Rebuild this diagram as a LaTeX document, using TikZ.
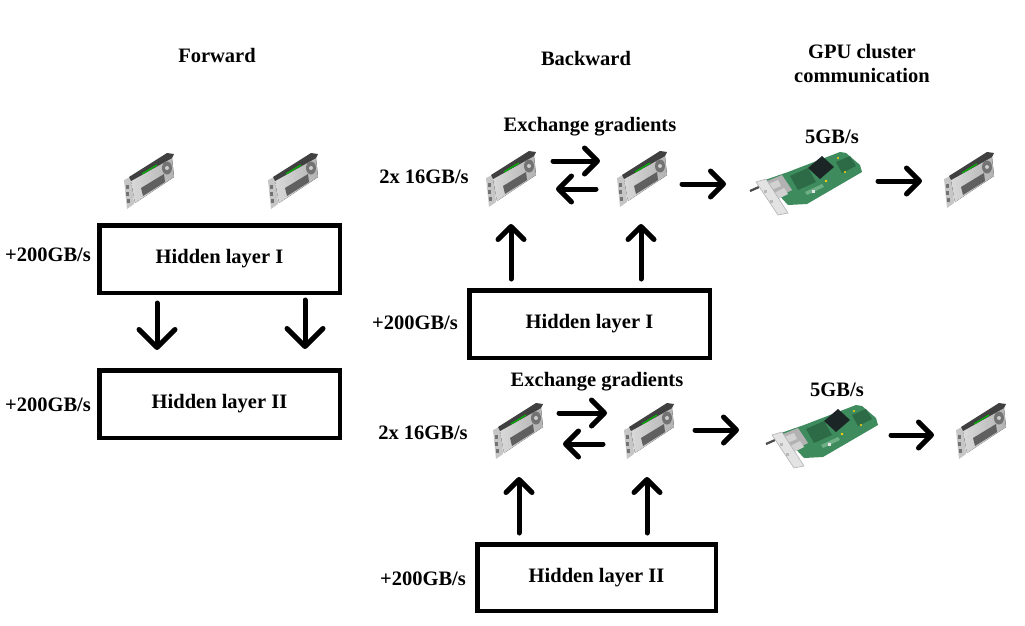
\documentclass[tikz,border=0pt]{standalone}
\usepackage{fontspec}
\setmainfont{Liberation Serif}
\usetikzlibrary{arrows.meta}
\definecolor{pcb}{HTML}{3E8B5E}
\definecolor{pcbdark}{HTML}{2C6B45}
\definecolor{pcblight}{HTML}{6FAF86}
\definecolor{sink}{HTML}{1C2526}
\tikzset{
  lbl/.style={font=\fontsize{20.5}{24}\selectfont\bfseries, inner sep=0pt, align=center},
  layer/.style={draw, line width=4.5pt, inner sep=0pt, font=\fontsize{20.5}{24}\selectfont\bfseries},
  arr/.style={line width=5pt, line cap=round, -{Straight Barb[length=13pt,width=26pt,line cap=round,line join=round]}},
  farr/.style={line width=5pt, line cap=round, -{Straight Barb[length=18pt,width=36pt,line cap=round,line join=round]}},
  gpu/.pic={
    % bracket
    \fill[gray!45] (1,27) -- (9,23) -- (11,51) -- (4,56) -- cycle;
    \fill[black!55] (3,32) rectangle (6,36);
    \fill[black!55] (3,39) rectangle (6,43);
    \fill[black!55] (4,46) rectangle (7,50);
    % side face
    \fill[left color=gray!30, right color=gray!60] (8,28) -- (49,5) -- (51,24) -- (12,50) -- cycle;
    % window
    \fill[gray!75!black] (18,35) -- (41,21) -- (42,29) -- (20,43) -- cycle;
    % top edge
    \fill[black!75] (8,28) -- (49,5) -- (51,1) -- (44,0) -- (6,24) -- cycle;
    \draw[green!70!black, line width=1.3pt] (19,21) -- (34,12);
    % fan
    \fill[black!55] (44,15) ellipse [x radius=5, y radius=6.5];
    \fill[gray!40] (44,15) circle [radius=2];
  },
  nic/.pic={
    % cable stub
    \draw[black!70, line width=2.2pt] (0,39) -- (9,35);
    % board
    \fill[pcb] (15,28) -- (38,20) -- (90,0) -- (96,1) -- (110,13) -- (112,20) -- (57,52) -- (38,53) -- cycle;
    \fill[pcbdark] (40,24) -- (58,16) -- (66,30) -- (48,38) -- cycle;
    \fill[pcbdark] (86,10) -- (100,4) -- (106,14) -- (92,21) -- cycle;
    \fill[pcblight] (55,40) -- (72,32) -- (74,35) -- (57,43) -- cycle;
    % heatsink
    \fill[sink] (72,4) -- (84,15) -- (70,27) -- (58,16) -- cycle;
    % components
    \fill[yellow!70!orange] (76,29) circle [radius=1.3];
    \fill[yellow!70!orange] (95,20) circle [radius=1.2];
    \fill[yellow!70!orange] (88,6) circle [radius=1.1];
    \fill[white!80!gray] (62,38) rectangle (65,41);
    % ports
    \fill[gray!60] (12,31) -- (32,23) -- (42,38) -- (24,47) -- cycle;
    \fill[gray!35] (16,33) -- (28,28) -- (31,34) -- (19,39) -- cycle;
    \fill[gray!35] (22,42) -- (34,36) -- (38,42) -- (26,48) -- cycle;
    % bracket plate
    \fill[gray!22] (6,30) -- (16,27) -- (38,61) -- (28,63) -- cycle;
    \draw[gray!60, line width=0.6pt] (6,30) -- (16,27) -- (38,61) -- (28,63) -- cycle;
    \fill[gray!55] (14,38) rectangle (17,41);
    \fill[gray!55] (20,48) rectangle (23,51);
  }
}
\begin{document}
\begin{tikzpicture}[x=1pt,y=-1pt]
\useasboundingbox (0,0) rectangle (1025,626);

% titles
\node[lbl] (tfwd) at (217,55) {Forward};
\node[lbl] (tbwd) at (586,58) {Backward};
\node[lbl] (tgpu) at (862,63.5) {GPU cluster\\communication};

% forward
\node[lbl] (fs1) at (48,255) {+200GB/s};
\node[lbl] (fs2) at (48,405) {+200GB/s};
\node[layer, minimum width=240.5pt, minimum height=67.5pt] (f1) at (219.5,259) {Hidden layer I};
\node[layer, minimum width=240.5pt, minimum height=67.5pt] (f2) at (219.5,404) {Hidden layer II};
\pic at (123,153) {gpu};
\pic at (267,153) {gpu};
\coordinate (fa1s) at (157,303); \coordinate (fa1e) at (157,350);
\coordinate (fa2s) at (305,300); \coordinate (fa2e) at (305,349);
\draw[farr] (fa1s) -- (fa1e);
\draw[farr] (fa2s) -- (fa2e);

% backward top
\node[lbl] (ex1) at (590,127) {Exchange gradients};
\node[lbl] (gb1) at (832,137) {5GB/s};
\node[lbl] (bw1) at (424,177) {2x 16GB/s};
\node[lbl] (bs1) at (415,323) {+200GB/s};
\node[layer, minimum width=240.5pt, minimum height=67.5pt] (b1) at (589.5,324) {Hidden layer I};
\pic at (485,151) {gpu};
\pic at (616,151) {gpu};
\pic at (750,152) {nic};
\pic at (943,152) {gpu};
\coordinate (u1s) at (511,279); \coordinate (u1e) at (511,224);
\coordinate (u2s) at (641,279); \coordinate (u2e) at (641,224);
\coordinate (x1s) at (553,161); \coordinate (x1e) at (600,161);
\coordinate (x2s) at (596,189); \coordinate (x2e) at (556,189);
\coordinate (r1s) at (682,184); \coordinate (r1e) at (726,184);
\coordinate (r2s) at (878,181); \coordinate (r2e) at (922,181);
\draw[arr] (u1s) -- (u1e);
\draw[arr] (u2s) -- (u2e);
\draw[arr] (x1s) -- (x1e);
\draw[arr] (x2s) -- (x2e);
\draw[arr] (r1s) -- (r1e);
\draw[arr] (r2s) -- (r2e);

% backward bottom
\node[lbl] (ex2) at (597,382) {Exchange gradients};
\node[lbl] (gb2) at (837,390) {5GB/s};
\node[lbl] (bw2) at (423,433) {2x 16GB/s};
\node[lbl] (bs2) at (423,579) {+200GB/s};
\node[layer, minimum width=238.5pt, minimum height=66.5pt] (b2) at (596.5,577.5) {Hidden layer II};
\pic at (492,403) {gpu};
\pic at (623,403) {gpu};
\pic at (766,405) {nic};
\pic at (955,403) {gpu};
\coordinate (v1s) at (519,533); \coordinate (v1e) at (519,477);
\coordinate (v2s) at (647,533); \coordinate (v2e) at (647,477);
\coordinate (y1s) at (559,413); \coordinate (y1e) at (607,413);
\coordinate (y2s) at (603,444); \coordinate (y2e) at (563,444);
\coordinate (s1s) at (695,430); \coordinate (s1e) at (739,430);
\coordinate (s2s) at (891,435); \coordinate (s2e) at (934,435);
\draw[arr] (v1s) -- (v1e);
\draw[arr] (v2s) -- (v2e);
\draw[arr] (y1s) -- (y1e);
\draw[arr] (y2s) -- (y2e);
\draw[arr] (s1s) -- (s1e);
\draw[arr] (s2s) -- (s2e);
\end{tikzpicture}
\end{document}
